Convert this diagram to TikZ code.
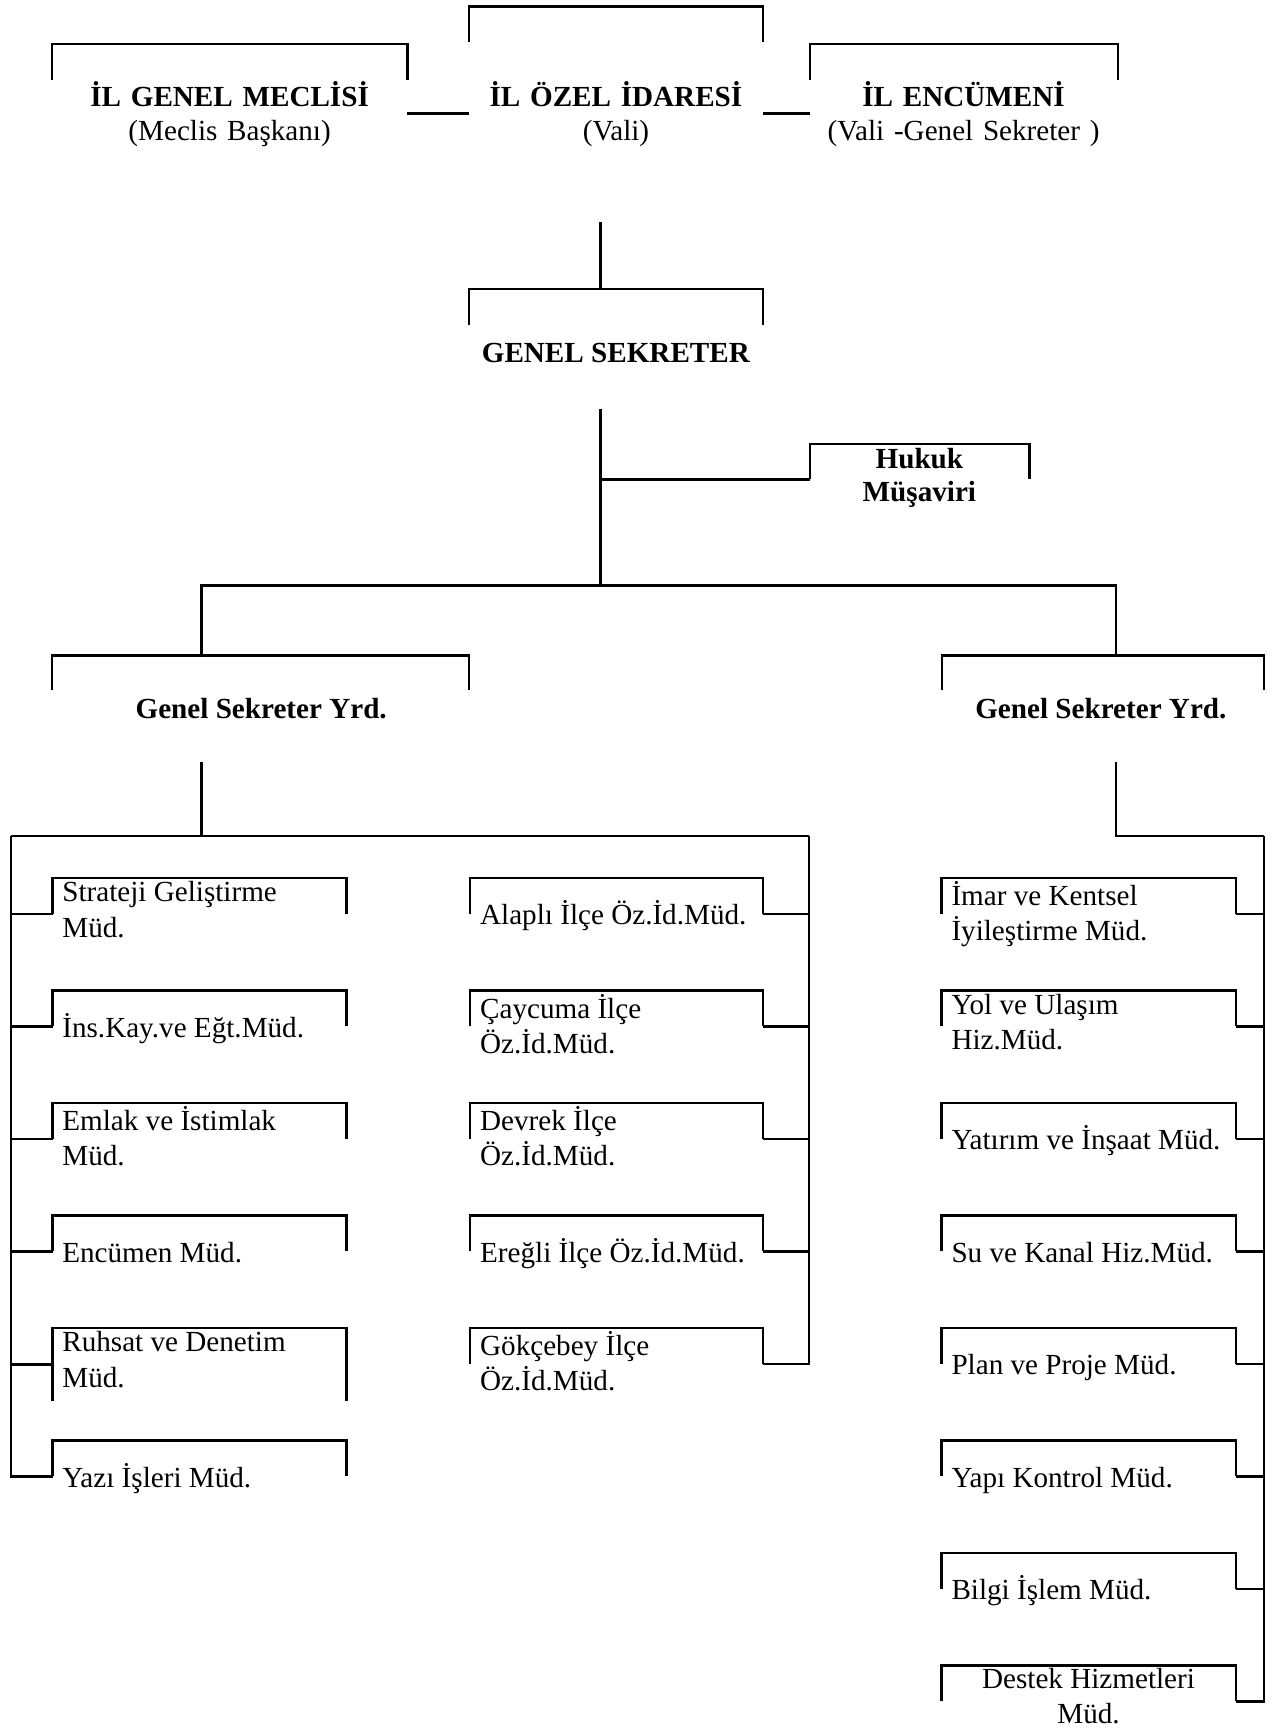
\documentclass[tikz,border=0pt]{standalone}
\usepackage{fontspec}
\setmainfont{Liberation Serif}
\def\tallstrut{\rule{0pt}{24pt}}
\def\frametop(#1){\draw[wire] (#1.south west) |- (#1.north east) -- (#1.south east);}
\tikzset{
  wire/.style={line width=2.2pt},
  topframe/.style={inner sep=0pt, anchor=north west, minimum height=32pt},
  head/.style={inner sep=0pt, anchor=north, align=center, font=\fontsize{26.5}{30.5}\selectfont\bfseries, execute at begin node=\tallstrut},
  unit/.style={inner sep=0pt, anchor=north west, align=left, execute at begin node=\tallstrut}
}

\begin{document}
\begin{tikzpicture}[x=1pt, y=-1pt, font=\fontsize{26.5}{32}\selectfont]
			%%%%% START %%%%%
			\useasboundingbox (0,0) rectangle (1160,1574);
			
			\node[topframe, minimum width=322.5pt] (meclisF) at (47.5,40) {};
			\node[topframe, minimum width=266.8pt] (idareF) at (426.7,6) {};
			\node[topframe, minimum width=279.6pt] (encumenF) at (736.4,40) {};
			\frametop(meclisF) \frametop(idareF) \frametop(encumenF)
			
			\node[head, text width=322.5pt] (meclis) at (208.8,73) {İL GENEL MECLİSİ\\{\mdseries(Meclis Başkanı)}};
			\node[head, text width=266.8pt] (idare) at (560.1,73) {İL ÖZEL İDARESİ\\{\mdseries(Vali)}};
			\node[head, text width=279.6pt] (encumen) at (876.2,73) {İL ENCÜMENİ\\{\mdseries(Vali -Genel Sekreter )}};
			\draw[wire] (meclis.east) -- (idare.west);
			\draw[wire] (idare.east) -- (encumen.west);
			
			\coordinate (gsIn) at (546,202);
			\node[topframe, minimum width=266.8pt] (gsF) at (426.7,263) {};
			\frametop(gsF)
			\draw[wire] (gsIn) -- (gsIn |- gsF.north);
			\node[head] (gs) at (560,305) {GENEL SEKRETER};
			
			\coordinate (gsOut) at (546,372);
			\coordinate (split) at (546,532.5);
			\node[topframe, minimum width=199.4pt] (hukukF) at (736.4,403.6) {};
			\frametop(hukukF)
			\draw[wire] (gsOut) -- (split);
			\draw[wire] (gsOut |- hukukF.south west) -- (hukukF.south west);
			\node[head] (hukuk) at (836,407) {Hukuk\\Müşaviri};
			
			\coordinate (dropL) at (183.3,532.5);
			\coordinate (dropR) at (1015,532.5);
			\node[topframe, minimum width=378.5pt, minimum height=31pt] (gsyLF) at (47.5,596) {};
			\node[topframe, minimum width=292.5pt, minimum height=31pt] (gsyRF) at (856.5,596) {};
			\frametop(gsyLF) \frametop(gsyRF)
			\draw[wire] (dropL |- gsyLF.north) -- (dropL) -- (dropR) -- (dropR |- gsyRF.north);
			\node[head] (gsyL) at (237.5,629) {Genel Sekreter Yrd.};
			\node[head] (gsyR) at (1001,629) {Genel Sekreter Yrd.};
			
			\coordinate (subL) at (183.3,692.5);
			\coordinate (subR) at (1015,692.5);
			\coordinate (lbus) at (10,760);
			\coordinate (mbus) at (735.8,760);
			\coordinate (rbus) at (1149.5,760);
			\draw[wire] (subL) -- (subL |- lbus);
			\draw[wire] (lbus) -- (mbus);
			\draw[wire] (subR) |- (rbus);
			
			% left column
			\node[topframe, minimum width=266.6pt] (stratF) at (47.9,798.5) {};
			\node[topframe, minimum width=266.6pt] (insF) at (47.9,900.8) {};
			\node[topframe, minimum width=266.6pt] (emlakF) at (47.9,1003.1) {};
			\node[topframe, minimum width=266.6pt] (encmudF) at (47.9,1105.4) {};
			\node[topframe, minimum width=266.6pt, minimum height=66pt] (ruhsatF) at (47.9,1207.7) {};
			\node[topframe, minimum width=266.6pt] (yaziF) at (47.9,1310) {};
			\frametop(stratF) \frametop(insF) \frametop(emlakF)
			\frametop(encmudF) \frametop(ruhsatF) \frametop(yaziF)
			
			\node[unit] (strat) at (56.5,801.5) {Strateji Geliştirme\\Müd.};
			\node[unit] (ins) at (56.5,918.8) {İns.Kay.ve Eğt.Müd.};
			\node[unit] (emlak) at (56.5,1006.1) {Emlak ve İstimlak\\Müd.};
			\node[unit] (encmud) at (56.5,1123.4) {Encümen Müd.};
			\node[unit] (ruhsat) at (56.5,1210.7) {Ruhsat ve Denetim\\Müd.};
			\node[unit] (yazi) at (56.5,1328) {Yazı İşleri Müd.};
			
			\draw[wire] (lbus) |- (yaziF.south west);
			\draw[wire] (lbus |- stratF.south west) -- (stratF.south west);
			\draw[wire] (lbus |- insF.south west) -- (insF.south west);
			\draw[wire] (lbus |- emlakF.south west) -- (emlakF.south west);
			\draw[wire] (lbus |- encmudF.south west) -- (encmudF.south west);
			\draw[wire] (lbus |- ruhsatF.west) -- (ruhsatF.west);
			
			% middle column
			\node[topframe, minimum width=266pt] (alapliF) at (427.3,798.5) {};
			\node[topframe, minimum width=266pt] (caycumaF) at (427.3,900.8) {};
			\node[topframe, minimum width=266pt] (devrekF) at (427.3,1003.1) {};
			\node[topframe, minimum width=266pt] (eregliF) at (427.3,1105.4) {};
			\node[topframe, minimum width=266pt] (gokceF) at (427.3,1207.7) {};
			\frametop(alapliF) \frametop(caycumaF) \frametop(devrekF)
			\frametop(eregliF) \frametop(gokceF)
			
			\node[unit] (alapli) at (436.4,816.5) {Alaplı İlçe Öz.İd.Müd.};
			\node[unit] (caycuma) at (436.4,903.8) {Çaycuma İlçe\\Öz.İd.Müd.};
			\node[unit] (devrek) at (436.4,1006.1) {Devrek İlçe\\Öz.İd.Müd.};
			\node[unit] (eregli) at (436.4,1123.4) {Ereğli İlçe Öz.İd.Müd.};
			\node[unit] (gokce) at (436.4,1210.7) {Gökçebey İlçe\\Öz.İd.Müd.};
			
			\draw[wire] (mbus) |- (gokceF.south east);
			\draw[wire] (alapliF.south east) -- (mbus |- alapliF.south east);
			\draw[wire] (caycumaF.south east) -- (mbus |- caycumaF.south east);
			\draw[wire] (devrekF.south east) -- (mbus |- devrekF.south east);
			\draw[wire] (eregliF.south east) -- (mbus |- eregliF.south east);
			
			% right column
			\node[topframe, minimum width=267.6pt] (imarF) at (856,798.5) {};
			\node[topframe, minimum width=267.6pt] (yolF) at (856,900.8) {};
			\node[topframe, minimum width=267.6pt] (yatirimF) at (856,1003.1) {};
			\node[topframe, minimum width=267.6pt] (suF) at (856,1105.4) {};
			\node[topframe, minimum width=267.6pt] (planF) at (856,1207.7) {};
			\node[topframe, minimum width=267.6pt] (yapiF) at (856,1310) {};
			\node[topframe, minimum width=267.6pt] (bilgiF) at (856,1412.3) {};
			\node[topframe, minimum width=267.6pt] (destekF) at (856,1514.6) {};
			\frametop(imarF) \frametop(yolF) \frametop(yatirimF) \frametop(suF)
			\frametop(planF) \frametop(yapiF) \frametop(bilgiF) \frametop(destekF)
			
			\node[unit] (imar) at (865,801.5) {İmar ve Kentsel\\İyileştirme Müd.};
			\node[unit] (yol) at (865,903.8) {Yol ve Ulaşım\\Hiz.Müd.};
			\node[unit] (yatirim) at (865,1021.1) {Yatırım ve İnşaat Müd.};
			\node[unit] (su) at (865,1123.4) {Su ve Kanal Hiz.Müd.};
			\node[unit] (plan) at (865,1225.7) {Plan ve Proje Müd.};
			\node[unit] (yapi) at (865,1328) {Yapı Kontrol Müd.};
			\node[unit] (bilgi) at (865,1430.3) {Bilgi İşlem Müd.};
			\node[unit, anchor=north, align=center] (destek) at (989.8,1516.6) {Destek Hizmetleri\\Müd.};
			
			\draw[wire] (rbus) |- (destekF.south east);
			\draw[wire] (imarF.south east) -- (rbus |- imarF.south east);
			\draw[wire] (yolF.south east) -- (rbus |- yolF.south east);
			\draw[wire] (yatirimF.south east) -- (rbus |- yatirimF.south east);
			\draw[wire] (suF.south east) -- (rbus |- suF.south east);
			\draw[wire] (planF.south east) -- (rbus |- planF.south east);
			\draw[wire] (yapiF.south east) -- (rbus |- yapiF.south east);
			\draw[wire] (bilgiF.south east) -- (rbus |- bilgiF.south east);
			
			%%%%% END %%%%%
\end{tikzpicture}
\end{document}
